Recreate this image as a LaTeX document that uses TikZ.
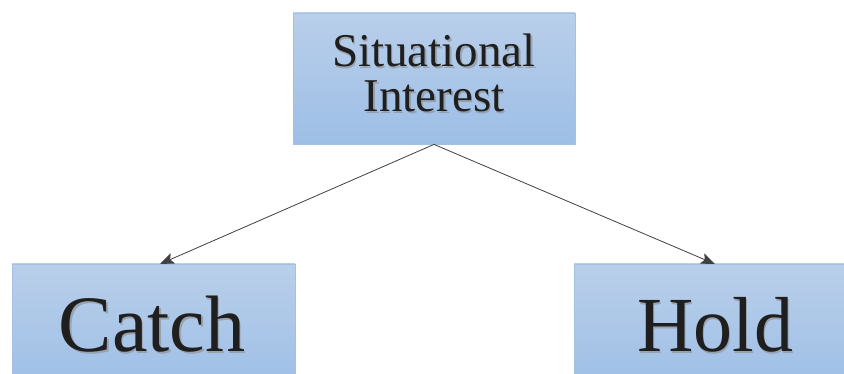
\documentclass[tikz,border=0pt]{standalone}
\usepackage{fontspec}
\setmainfont{Liberation Serif}
\usetikzlibrary{arrows.meta}
\begin{document}
\begin{tikzpicture}[x=1pt,y=-1pt,
  box/.style={draw=boxedge,line width=0.8pt,top color=boxtop,bottom color=boxbot,inner sep=0pt},
  lbl/.style={anchor=base,text=black!88,inner sep=0pt},
  shd/.style={anchor=base,text=black!45,opacity=0.6,inner sep=0pt},
  conn/.style={draw=black!75,line width=0.8pt,-{Stealth[length=14pt,width=11pt,inset=3pt]}}]
\definecolor{boxedge}{HTML}{A4C0E2}
\definecolor{boxtop}{HTML}{B9CFEA}
\definecolor{boxbot}{HTML}{9DBEE6}
\useasboundingbox (0,0) rectangle (844,374);
\clip (0,0) rectangle (844,374);
\fill[white] (0,0) rectangle (844,374);
\node[box,minimum width=282pt,minimum height=131pt] (si) at (434,78.5) {};
\node[box,minimum width=283pt,minimum height=130pt] (ca) at (153.5,329) {};
\node[box,minimum width=290pt,minimum height=130pt] (ho) at (719,329) {};
\coordinate (cat) at (160,264);
\coordinate (hot) at (715,264);
% shadows
\node[shd,font=\fontsize{47}{50}\selectfont] (s1) at (435.5,68.5) {Situational};
\node[shd,font=\fontsize{47}{50}\selectfont] (s2) at (435.5,113.5) {Interest};
\node[shd,font=\fontsize{80}{84}\selectfont] (s3) at (153.5,353.5) {Catch};
\node[shd,font=\fontsize{78}{84}\selectfont] (s4) at (716.5,353.5) {Hold};
% texts
\node[lbl,font=\fontsize{47}{50}\selectfont] (t1) at (434,67) {Situational};
\node[lbl,font=\fontsize{47}{50}\selectfont] (t2) at (434,112) {Interest};
\node[lbl,font=\fontsize{80}{84}\selectfont] (t3) at (152,352) {Catch};
\node[lbl,font=\fontsize{78}{84}\selectfont] (t4) at (715,352) {Hold};
\draw[conn] (si.south) -- (cat);
\draw[conn] (si.south) -- (hot);
\end{tikzpicture}
\end{document}
